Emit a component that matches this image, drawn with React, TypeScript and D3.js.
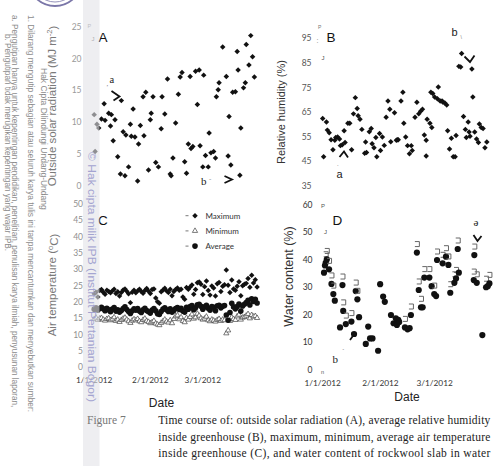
import React from "react";
import * as d3 from "d3";

// Outside solar radiation (MJ m-2): day offset from 1 Jan 2012, value
const solarDays = [0,1.5,2.5,0.5,5.5,4,6,8,9.5,9,11.5,10.5,13,14.5,17,19,15,16,17.5,20,20.5,22.5,21.5,24.5,24,25.5,27.5,27,28.5,30,31,31.5,32.5,34,35.5,37,37.5,39,40.5,42,42.5,43.5,45,46.5,47.5,48.5,51,50,52,53,53.5,54.5,56,57,58,58.5,60,60.5,61.5,63,63.5,64.5,66,67,67.5,68.5,69,71,73,74,74.5,75.5,76.5,78,79,79.5,81,80.5,82.5,83.5,84,86.5,85.5,87.5,88.5];
const solarMJ = [11.2,9.7,9.1,5.4,12.9,10.5,10.3,11.4,11.2,9.4,10.4,7.1,4.6,1.9,1.6,3.0,13.4,8.5,8.0,9.7,7.8,7.7,12.1,6.6,0.8,9.5,7.9,14.0,14.7,2.5,10.4,11.4,14.0,3.7,3.0,9.0,14.0,11.3,16.8,1.9,1.6,4.4,9.9,14.4,17.1,17.8,2.0,3.8,6.6,17.2,5.9,6.2,18.0,12.8,18.2,6.3,3.0,17.4,4.8,3.0,8.3,5.2,5.4,4.4,14.0,15.1,16.2,21.8,17.2,4.7,10.9,3.3,14.7,14.8,21.1,18.2,9.1,1.7,15.4,16.2,22.2,23.6,19.0,20.3,17.1];

// Average relative humidity inside the greenhouse (%)
const rhDays = [0,2,0.5,2.5,3.5,4.5,5.5,6.5,7,8,9,9.5,10.5,11.5,12,13.5,14.5,15.5,16.5,17.5,18.5,19,20,21,22.5,23.5,23,25,26,26.5,27.5,28.5,29,30.5,31,32,33,34,35,36,36.5,38.5,39.5,40,40.5,42,43,43.5,44.5,45.5,46.5,47.5,48,49.5,50.5,51.5,52.5,53.5,54.5,55.5,56,57.5,58.5,55.5,58,59,60,61.5,62,63,64,64.5,65.5,66.5,67,68,69,70,71,71.5,73,74,74.5,75.5,76.5,77,78,78.5,79,80,80.5,81.5,82.5,83.5,84,85,86,87,88];
const rhPct = [62.4,61.0,46.9,57.7,56.6,53.8,49.7,53.6,54.7,54.9,54.1,51.4,51.8,57.4,52.7,60.5,60.5,49.7,64.3,70.9,66.5,63.5,62.1,58.0,48.3,48.6,52.9,57.0,58.4,52.2,50.5,54.7,46.9,56.3,49.4,54.9,51.5,62.9,69.5,66.2,53.0,64.8,53.6,53.8,53.8,69.5,73.1,60.5,54.9,51.4,48.1,51.4,49.4,62.9,69.0,64.3,65.4,66.2,55.7,53.6,62.1,60.5,58.8,47.2,73.1,72.6,71.2,70.4,75.2,69.5,69.5,69.0,68.7,67.9,57.4,50.0,54.4,46.9,46.9,55.5,83.6,83.3,88.8,63.2,58.0,54.7,61.0,56.9,55.2,82.5,71.2,56.9,54.1,52.7,60.2,58.8,58.4,50.5,52.9];

// Daily air temperature inside the greenhouse (°C), one value per day from 1 Jan 2012
const tempMax = [22.5,23.0,21.5,23.5,23.8,23.0,22.4,23.6,23.2,22.8,23.4,23.9,22.6,23.1,21.8,22.9,23.7,24.0,23.3,22.5,19.8,23.0,23.6,22.8,23.4,23.9,23.2,22.7,23.5,24.1,23.3,22.6,23.8,24.0,21.2,20.1,19.6,23.1,23.7,24.2,23.4,22.9,23.9,21.9,23.2,23.8,24.3,23.6,23.9,21.5,20.8,24.4,23.9,24.6,25.2,22.4,23.8,25.9,26.1,25.4,22.3,24.7,26.4,23.5,22.1,24.9,24.3,21.8,25.6,26.0,23.2,24.8,25.3,29.8,25.1,22.9,26.7,24.0,23.6,24.8,26.2,21.9,25.0,25.4,25.7,27.2,24.5,28.2,25.8,26.8,24.6];
const tempMin = [14.8,15.2,14.5,14.9,15.1,14.6,14.3,14.8,15.0,14.4,14.7,15.3,14.2,14.6,13.9,14.5,14.9,15.2,14.6,14.1,13.6,14.3,14.7,14.4,14.8,14.1,13.8,14.5,14.9,14.2,13.9,13.5,13.8,14.2,13.4,13.1,12.9,13.6,14.1,14.6,14.0,13.7,14.4,13.5,14.8,15.6,15.9,14.7,15.3,14.2,13.8,15.1,14.6,15.4,16.2,14.9,15.3,16.4,15.8,15.0,14.6,14.9,15.5,14.4,14.1,14.6,14.3,14.0,14.5,14.8,14.2,14.6,14.4,10.4,11.3,14.2,15.3,14.8,14.5,15.6,16.1,14.6,15.2,15.4,15.8,16.3,15.0,16.0,15.5,15.7,15.1];
const tempAvg = [17.8,18.2,17.5,18.0,18.4,17.9,17.3,18.1,17.6,17.0,17.8,18.3,17.2,17.6,16.9,17.4,18.0,18.5,17.7,17.1,16.5,17.3,17.9,17.5,18.0,17.2,16.8,17.6,18.1,17.4,17.0,16.6,17.5,18.0,17.3,16.4,16.2,17.1,17.8,18.2,17.6,17.1,17.9,16.9,17.4,18.0,18.3,17.7,18.1,17.2,16.9,18.4,17.8,18.6,18.9,17.6,18.2,19.1,19.3,18.7,17.8,18.5,19.0,18.1,17.5,18.6,18.4,17.3,18.8,19.0,18.2,18.7,18.9,16.0,14.4,16.8,19.6,18.5,17.9,18.6,19.4,17.2,18.8,19.3,19.8,20.5,19.1,21.0,20.2,20.8,19.7];

// Water content of the rockwool slab (%)
const wcDays = [0.7,1.6,2.2,1.2,3.4,4.7,5.7,6.5,9.3,10.6,11,12.4,15.4,16.8,17.7,18.6,19.5,23.1,24.4,25.4,26.7,29.7,30.8,32.4,33.3,36.6,38,39.2,39.8,40.5,41,44.1,45.5,46.6,47.3,50.5,51.5,52.7,53.6,54.5,57.2,58.4,59.8,60.8,61.3,64.3,66.1,67.4,68.4,70.6,71.5,72.4,73,81.3,81,82.6,85.6,87.6,88.5,89.4];
const wcPct = [35.4,39.0,40.2,38.0,36.6,31.3,27.6,25.2,15.5,30.9,21.5,16.7,17.6,13.1,28.7,25.7,19.2,9.5,15.8,11.5,11.5,7.0,31.2,26.7,24.8,20.0,17.0,18.8,16.4,18.2,17.5,15.5,14.8,15.2,20.0,42.7,29.1,22.8,22.8,33.6,33.6,30.5,27.6,26.9,40.0,38.8,41.2,38.2,28.1,31.7,33.3,44.0,35.4,41.8,32.7,31.7,12.7,30.1,30.5,31.5];
const wcCapped = [0,1,1,0,1,1,1,0,0,1,1,1,1,0,1,1,0,0,0,0,0,0,0,0,0,0,0,0,0,0,0,1,0,0,1,1,1,1,0,1,1,0,1,0,1,1,1,1,1,1,1,1,0,1,1,1,0,1,0,1];

const dateTicks = ["1/1/2012", "2/1/2012", "3/1/2012"];
const legendItems = ["Maximum", "Minimum", "Average"];

const SANS = "'Liberation Sans', Arial, sans-serif";
const NARROW = "Lato, 'Open Sans', sans-serif";
const SERIF = "'Liberation Serif', 'Times New Roman', serif";

const jan1 = new Date(Date.UTC(2012, 0, 1));
const apr1 = new Date(Date.UTC(2012, 3, 1));
const atDay = (d: number) => new Date(jan1.getTime() + d * 864e5);
const parseTick = d3.utcParse("%m/%d/%Y");

// left column (A, C) and right column (B, D) share their time axes
const xLeft = d3.scaleUtc().domain([jan1, apr1]).range([94.2, 94.2 + 91 * 1.81]);
const xRight = d3.scaleUtc().domain([jan1, apr1]).range([322.7, 322.7 + 91 * 1.865]);

const yA = d3.scaleLinear().domain([0, 25]).range([186, 26.7]);
const yB = d3.scaleLinear().domain([35, 95]).range([186, 38.3]);
const yC = d3.scaleLinear().domain([0, 50]).range([367.3, 204]);
const yD = d3.scaleLinear().domain([0, 60]).range([370, 205]);

const diamondPath = d3.symbol(d3.symbolSquare, 15)() as string;
const trianglePath = d3.symbol(d3.symbolTriangle, 12)() as string;

function Diamond({ x, y, fill = "#111" }: { x: number; y: number; fill?: string }) {
  return <path d={diamondPath} transform={`translate(${x},${y}) rotate(45)`} fill={fill} />;
}

function YTicks({ scale, values, x, fill, size = 8 }: any) {
  return (
    <g fontFamily={NARROW} fontSize={size} fill={fill} textAnchor="end">
      {values.map((v: number) => (
        <text key={v} x={x} y={scale(v)} dy="0.35em">{v}</text>
      ))}
    </g>
  );
}

function DateTicks({ scale, y }: any) {
  return (
    <g fontFamily={NARROW} fontSize={8.3} fill="#333" textAnchor="middle">
      {dateTicks.map((s) => (
        <text key={s} x={scale(parseTick(s))} y={y}>{s}</text>
      ))}
    </g>
  );
}

const watermarkLines = [
  { t: "Hak Cipta Dilindungi Undang-Undang", x: 40.5, y: 68, size: 8.5 },
  { t: "1. Dilarang mengutip sebagian atau seluruh karya tulis ini tanpa mencantumkan dan menyebutkan sumber:", x: 27.5, y: 15, size: 8.4 },
  { t: "a. Pengutipan hanya untuk kepentingan pendidikan, penelitian, penulisan karya ilmiah, penyusunan laporan,", x: 11.5, y: 15, size: 8.2 },
  { t: "b. Pengutipan tidak merugikan kepentingan yang wajar IPB.", x: 4.5, y: 34, size: 8.2 },
];

export default function App() {
  const tDays = tempMax.map((_, i) => i);
  return (
    <svg width={496} height={466} viewBox="0 0 496 466"
      style={{ position: "absolute", left: 0, top: 0, background: "#fff" }}>
      <rect width={496} height={466} fill="#fff" />

      {/* emblem at top of margin */}
      <g fill="none" stroke="#7a76a8">
        <circle cx={55} cy={-21} r={27} strokeWidth={1.8} />
        <circle cx={55} cy={-21} r={23} strokeWidth={0.8} />
      </g>

      {/* margin notice */}
      <g fontFamily={SANS} fill="#8c8c8c">
        {watermarkLines.map((l, i) => (
          <text key={i} transform={`translate(${l.x},${l.y}) rotate(90)`} fontSize={l.size}>{l.t}</text>
        ))}
      </g>

      {/* ---------- A: outside solar radiation ---------- */}
      <YTicks scale={yA} values={yA.ticks(5)} x={81.5} fill="#9a9a9a" size={8.5} />
      <text transform="translate(55.5,106) rotate(-90)" textAnchor="middle" fontFamily={SANS} fontSize={11.5} fill="#7a7a7a">
        Outside solar radiation (MJ m<tspan dy="-0.45em" fontSize="7.5">-2</tspan><tspan dy="0.45em">)</tspan>
      </text>
      <text x={98.5} y={42.3} fontFamily={SANS} fontSize={13.5} fill="#111">A</text>
      <g>
        {solarDays.map((d, i) => (
          <Diamond key={i} x={xLeft(atDay(d))} y={yA(solarMJ[i])} />
        ))}
      </g>

      {/* ---------- B: relative humidity ---------- */}
      <YTicks scale={yB} values={d3.range(35, 96, 10)} x={311.5} fill="#555" size={8.5} />
      <text transform="translate(284.5,112) rotate(-90)" textAnchor="middle" fontFamily={SANS} fontSize={11} fill="#333">
        Relative humidity (%)
      </text>
      <text x={326.5} y={42} fontFamily={SANS} fontSize={13.5} fill="#111">B</text>
      <g>
        {rhDays.map((d, i) => (
          <Diamond key={i} x={xRight(atDay(d))} y={yB(rhPct[i])} />
        ))}
      </g>

      {/* ---------- C: air temperature ---------- */}
      <YTicks scale={yC} values={yC.ticks(10)} x={83} fill="#8f8f8f" size={8.5} />
      <text transform="translate(56,285) rotate(-90)" textAnchor="middle" fontFamily={SANS} fontSize={11.5} fill="#7a7a7a">
        Air temperature (<tspan dy="-0.45em" fontSize="7.5">o</tspan><tspan dy="0.45em">C)</tspan>
      </text>
      <text x={98} y={225} fontFamily={SANS} fontSize={13.5} fill="#111">C</text>
      <g>
        {tDays.map((d) => (
          <Diamond key={"mx" + d} x={xLeft(atDay(d))} y={yC(tempMax[d])} />
        ))}
        {tDays.map((d) => (
          <path key={"mn" + d} d={trianglePath} transform={`translate(${xLeft(atDay(d))},${yC(tempMin[d])})`}
            fill="#fff" stroke="#444" strokeWidth={0.7} />
        ))}
        {tDays.map((d) => (
          <circle key={"av" + d} cx={xLeft(atDay(d))} cy={yC(tempAvg[d])} r={2.8} fill="#111" />
        ))}
      </g>
      <DateTicks scale={xLeft} y={383} />
      <text x={161.5} y={407} textAnchor="middle" fontFamily={SANS} fontSize={12} fill="#222">Date</text>

      {/* legend */}
      <g fontFamily={NARROW} fontSize={8} fill="#333">
        {legendItems.map((name, i) => {
          const cy = 215.7 + i * 15.2;
          return (
            <g key={name}>
              <line x1={185.5} x2={188.5} y1={cy} y2={cy} stroke="#555" strokeWidth={0.8} />
              {i === 0 && <Diamond x={195} y={cy} />}
              {i === 1 && <path d={trianglePath} transform={`translate(195,${cy})`} fill="#fff" stroke="#444" strokeWidth={0.7} />}
              {i === 2 && <circle cx={195} cy={cy} r={2.8} fill="#111" />}
              <text x={205.5} y={cy} dy="0.35em">{name}</text>
            </g>
          );
        })}
      </g>

      {/* ---------- D: water content ---------- */}
      <YTicks scale={yD} values={yD.ticks(6)} x={312.5} fill="#333" size={8.5} />
      <text transform="translate(292.5,276.5) rotate(-90)" textAnchor="middle" fontFamily={SANS} fontSize={12.5} fill="#333">
        Water content (%)
      </text>
      <text x={332.5} y={225} fontFamily={SANS} fontSize={13.5} fill="#111">D</text>
      <g>
        {wcDays.map((d, i) => {
          const cx = xRight(atDay(d));
          const cy = yD(wcPct[i]);
          return (
            <g key={i}>
              {wcCapped[i] ? (
                <path d={`M${cx - 2},${cy - 11} h4.5 v5 h-4.5`} fill="none" stroke="#666" strokeWidth={1} />
              ) : null}
              <circle cx={cx} cy={cy} r={3.1} fill="#111" />
            </g>
          );
        })}
      </g>
      <DateTicks scale={xRight} y={386} />
      <text x={407} y={400.5} textAnchor="middle" fontFamily={SANS} fontSize={12} fill="#222">Date</text>

      {/* handwritten-style annotations */}
      <g fill="#222">
        <text x={87.5} y={28} fontFamily={SANS} fontSize={5.5} fill="#888">P</text>
        <text x={91.5} y={41} fontFamily={SANS} fontSize={6} fill="#666">J</text>
        <text x={109.5} y={82.5} fontFamily={SERIF} fontSize={10.5}>a</text>
        <text x={106.5} y={86} fontFamily={SERIF} fontSize={7} fill="#777">,</text>
        <text x={201} y={184.5} fontFamily={SERIF} fontSize={11}>b</text>
        <text x={209} y={181} fontFamily={SERIF} fontSize={7} fill="#777">-</text>

        <text x={318} y={28.5} fontFamily={SANS} fontSize={5} fill="#777">P</text>
        <text x={316.5} y={42.5} fontFamily={SANS} fontSize={7} fill="#777">:</text>
        <text x={321.5} y={60} fontFamily={SANS} fontSize={6} fill="#555">J</text>
        <text x={451.5} y={36} fontFamily={SANS} fontSize={11}>b</text>
        <text x={460.5} y={38.5} fontFamily={SANS} fontSize={5} fill="#777">\</text>
        <text x={336.5} y={178} fontFamily={SANS} fontSize={11}>a</text>
        <text x={337} y={168.5} fontFamily={SANS} fontSize={6} fill="#777">´</text>

        <text x={321} y={208} fontFamily={SANS} fontSize={6} fill="#555">P</text>
        <text x={324} y={234} fontFamily={SANS} fontSize={6} fill="#555">J</text>
        <text x={321} y={374} fontFamily={SANS} fontSize={5.5} fill="#555">n</text>
        <text x={332.5} y={362.5} fontFamily={SERIF} fontSize={11}>b</text>
        <text x={342} y={353} fontFamily={SERIF} fontSize={7} fill="#777">´</text>
        <text x={473.5} y={225.5} fontFamily={SERIF} fontSize={11}>ə</text>
      </g>
      <g fill="none" stroke="#111" strokeWidth={1.8} strokeLinejoin="miter">
        <path d="M111.5,91 L119.5,96.5 L113.5,100.5" />
        <path d="M224.5,176 L232,179.5 L224.5,183" />
        <path d="M464.5,56.5 L470,62 L474.5,55.5" />
        <path d="M339.5,157 L344,151.5 L348,157.5" />
        <path d="M473.5,235 L477.5,241 L481.5,236" />
        <path d="M350,340 L355,333 M351.5,333.5 L355,333 L355.5,336.5" />
      </g>

      {/* translucent margin stamp */}
      <rect x={83} y={0} width={16.5} height={466} fill="rgb(226,226,232)" fillOpacity={0.6} />
      <text transform="translate(88,152) rotate(90)" fontFamily={SANS} fontSize={10.5} fill="#a3a3d0"
        textLength={250} lengthAdjust="spacingAndGlyphs">
        © Hak cipta milik IPB (Institut Pertanian Bogor)
      </text>

      {/* caption */}
      <g fontFamily={SERIF} fontSize={11.5}>
        <text x={87} y={424} fill="#777">Figure 7</text>
        <text x={158.3} y={424} fill="#222" textLength={332} lengthAdjust="spacing">
          Time course of: outside solar radiation (A), average relative humidity
        </text>
        <text x={158.3} y={440.5} fill="#222" textLength={332} lengthAdjust="spacing">
          inside greenhouse (B), maximum, minimum, average air temperature
        </text>
        <text x={158.3} y={457} fill="#222" textLength={332} lengthAdjust="spacing">
          inside greenhouse (C), and water content of rockwool slab in water
        </text>
      </g>
    </svg>
  );
}
